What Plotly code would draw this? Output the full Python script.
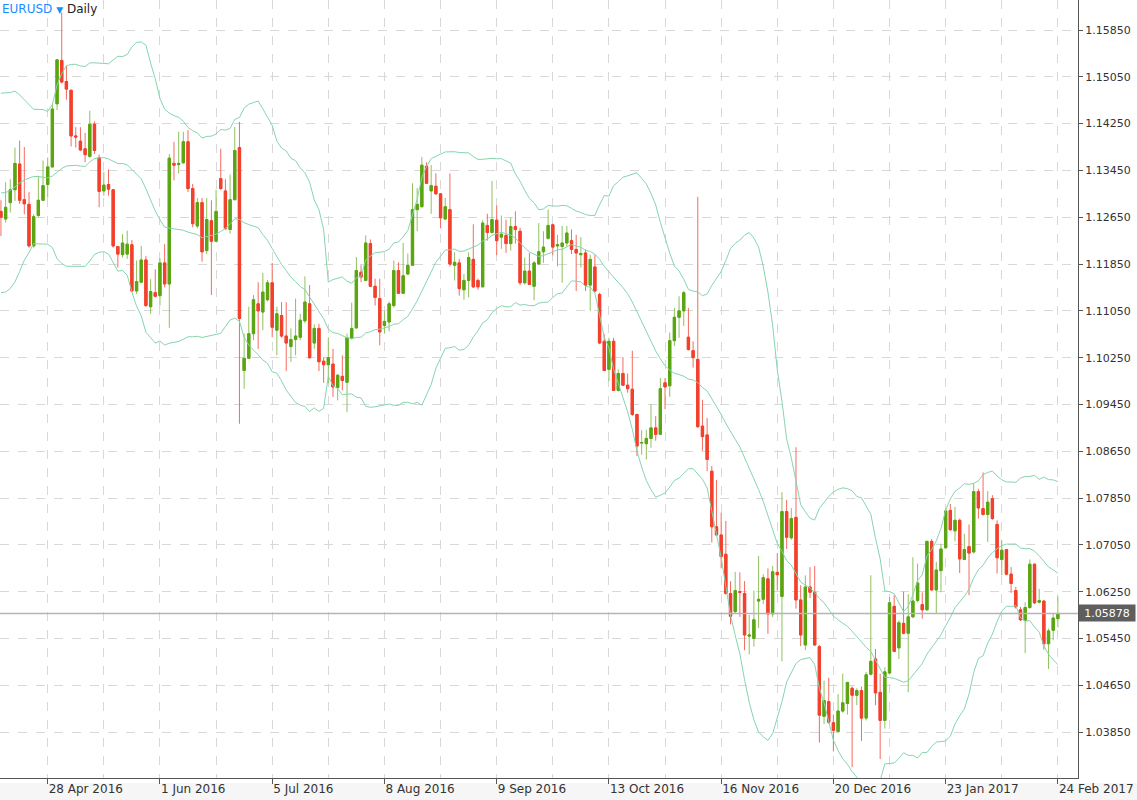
import numpy as np
import pandas as pd
import plotly.graph_objects as go

# ---------------- data ----------------
# daily EURUSD bars, 14 Apr 2016 .. 24 Feb 2017 (weekdays)
opens = [1.1275,1.1262,1.1290,1.1312,1.1356,1.1295,1.1287,1.1216,1.1268,1.1294,
1.1321,1.1351,1.1459,1.1533,1.1497,1.1482,1.1404,1.1395,1.1382,1.1369,
1.1424,1.1367,1.1310,1.1321,1.1312,1.1215,1.1201,1.1202,1.1218,1.1139,
1.1154,1.1192,1.1112,1.1136,1.1131,1.1187,1.1151,1.1357,1.1355,1.1358,
1.1394,1.1314,1.1250,1.1290,1.1208,1.1259,1.1224,1.1331,1.1310,1.1244,
1.1295,1.1384,1.1003,1.1024,1.1066,1.1117,1.1103,1.1124,1.1153,1.1072,
1.1097,1.1062,1.1044,1.1056,1.1060,1.1088,1.1117,1.1050,1.1075,1.1019,
1.1013,1.1014,1.0974,1.0993,1.0983,1.1058,1.1076,1.1171,1.1157,1.1220,
1.1147,1.1126,1.1080,1.1086,1.1114,1.1174,1.1135,1.1168,1.1183,1.1278,
1.1283,1.1352,1.1310,1.1318,1.1305,1.1262,1.1278,1.1183,1.1187,1.1141,
1.1157,1.1193,1.1157,1.1146,1.1251,1.1239,1.1260,1.1231,1.1234,1.1220,
1.1249,1.1241,1.1153,1.1173,1.1147,1.1185,1.1206,1.1229,1.1252,1.1216,
1.1215,1.1221,1.1225,1.1210,1.1201,1.1204,1.1149,1.1180,1.1133,1.1053,
1.1005,1.1053,1.0969,1.0998,1.0978,1.0971,1.0928,1.0879,1.0878,1.0887,
1.0905,1.0894,1.0982,1.0977,1.1054,1.1094,1.1105,1.1060,1.1037,1.1022,
1.0908,1.0893,1.0831,1.0736,1.0722,1.0689,1.0622,1.0591,1.0625,1.0622,
1.0549,1.0545,1.0609,1.0612,1.0647,1.0587,1.0658,1.0617,1.0762,1.0717,
1.0752,1.0611,1.0534,1.0633,1.0624,1.0531,1.0412,1.0437,1.0401,1.0386,
1.0421,1.0434,1.0460,1.0448,1.0456,1.0409,1.0484,1.0510,1.0453,1.0405,
1.0486,1.0600,1.0529,1.0571,1.0554,1.0582,1.0610,1.0603,1.0594,1.0711,
1.0628,1.0661,1.0700,1.0764,1.0729,1.0747,1.0680,1.0702,1.0693,1.0796,
1.0767,1.0757,1.0784,1.0740,1.0680,1.0697,1.0655,1.0627,1.0594,1.0576,
1.0598,1.0672,1.0607,1.0609,1.0536,1.0559,1.0579]
highs = [1.1294,1.1325,1.1330,1.1384,1.1396,1.1385,1.1308,1.1270,1.1336,1.1362,
1.1367,1.1459,1.1535,1.1615,1.1524,1.1483,1.1419,1.1419,1.1409,1.1447,
1.1429,1.1372,1.1342,1.1347,1.1312,1.1216,1.1236,1.1242,1.1226,1.1191,
1.1216,1.1199,1.1159,1.1176,1.1195,1.1219,1.1373,1.1394,1.1411,1.1411,
1.1414,1.1322,1.1298,1.1298,1.1298,1.1294,1.1312,1.1382,1.1330,1.1338,
1.1419,1.1428,1.1066,1.1112,1.1132,1.1154,1.1170,1.1158,1.1187,1.1112,
1.1120,1.1120,1.1075,1.1126,1.1100,1.1164,1.1149,1.1082,1.1083,1.1026,
1.1060,1.1040,1.0997,1.1029,1.1066,1.1119,1.1197,1.1183,1.1234,1.1227,
1.1160,1.1160,1.1105,1.1121,1.1191,1.1188,1.1221,1.1203,1.1323,1.1315,
1.1368,1.1359,1.1354,1.1340,1.1306,1.1298,1.1340,1.1205,1.1194,1.1168,
1.1205,1.1253,1.1160,1.1260,1.1271,1.1327,1.1285,1.1268,1.1261,1.1265,
1.1275,1.1247,1.1196,1.1204,1.1190,1.1255,1.1241,1.1278,1.1254,1.1235,
1.1250,1.1250,1.1244,1.1235,1.1231,1.1210,1.1201,1.1201,1.1136,1.1065,
1.1059,1.1059,1.1005,1.1026,1.0998,1.1037,1.0928,1.0901,1.0902,1.0945,
1.0925,1.0990,1.0990,1.1068,1.1110,1.1130,1.1139,1.1110,1.1053,1.1300,
1.0953,1.0922,1.0840,1.0816,1.0760,1.0746,1.0643,1.0659,1.0658,1.0643,
1.0585,1.0627,1.0686,1.0655,1.0665,1.0669,1.0691,1.0795,1.0782,1.0768,
1.0872,1.0636,1.0653,1.0667,1.0669,1.0534,1.0473,1.0478,1.0415,1.0450,
1.0485,1.0470,1.0463,1.0460,1.0463,1.0488,1.0653,1.0527,1.0485,1.0496,
1.0616,1.0619,1.0576,1.0625,1.0621,1.0684,1.0673,1.0624,1.0712,1.0715,
1.0676,1.0707,1.0767,1.0775,1.0770,1.0750,1.0724,1.0740,1.0810,1.0801,
1.0829,1.0797,1.0790,1.0747,1.0713,1.0698,1.0667,1.0633,1.0599,1.0607,
1.0680,1.0673,1.0630,1.0610,1.0562,1.0587,1.0617]
lows = [1.1233,1.1256,1.1273,1.1293,1.1288,1.1270,1.1213,1.1213,1.1265,1.1293,
1.1299,1.1350,1.1448,1.1494,1.1466,1.1386,1.1384,1.1378,1.1359,1.1367,
1.1373,1.1282,1.1302,1.1302,1.1213,1.1179,1.1196,1.1194,1.1137,1.1134,
1.1154,1.1112,1.1100,1.1128,1.1114,1.1145,1.1076,1.1328,1.1340,1.1357,
1.1308,1.1248,1.1246,1.1189,1.1202,1.1132,1.1224,1.1312,1.1243,1.1237,
1.1294,1.0912,1.0972,1.1023,1.1055,1.1040,1.1072,1.1121,1.1060,1.1029,
1.1059,1.1002,1.1018,1.1029,1.1055,1.1084,1.1023,1.1040,1.1002,1.0982,
1.0981,1.0958,1.0952,1.0969,1.0932,1.1056,1.1074,1.1154,1.1157,1.1146,
1.1114,1.1046,1.1066,1.1070,1.1111,1.1134,1.1134,1.1166,1.1183,1.1241,
1.1282,1.1322,1.1271,1.1304,1.1246,1.1261,1.1181,1.1157,1.1131,1.1124,
1.1128,1.1144,1.1141,1.1146,1.1225,1.1237,1.1200,1.1211,1.1204,1.1208,
1.1220,1.1149,1.1150,1.1150,1.1123,1.1184,1.1187,1.1227,1.1200,1.1181,
1.1153,1.1215,1.1202,1.1139,1.1179,1.1139,1.1105,1.1136,1.1048,1.1002,
1.0985,1.0968,1.0967,1.0977,1.0965,1.0925,1.0857,1.0859,1.0851,1.0871,
1.0883,1.0893,1.0937,1.0958,1.1045,1.1059,1.1079,1.1037,1.1008,1.0905,
1.0866,1.0831,1.0709,1.0720,1.0665,1.0620,1.0569,1.0588,1.0582,1.0525,
1.0518,1.0531,1.0563,1.0604,1.0553,1.0582,1.0627,1.0506,1.0698,1.0714,
1.0596,1.0532,1.0525,1.0614,1.0532,1.0367,1.0399,1.0399,1.0352,1.0383,
1.0418,1.0415,1.0325,1.0431,1.0370,1.0405,1.0482,1.0431,1.0339,1.0391,
1.0485,1.0522,1.0510,1.0552,1.0453,1.0580,1.0607,1.0579,1.0593,1.0627,
1.0588,1.0624,1.0700,1.0729,1.0711,1.0657,1.0679,1.0619,1.0690,1.0750,
1.0755,1.0710,1.0748,1.0656,1.0653,1.0653,1.0623,1.0596,1.0575,1.0520,
1.0596,1.0604,1.0605,1.0526,1.0493,1.0542,1.0564]
closes = [1.1265,1.1282,1.1312,1.1357,1.1294,1.1288,1.1216,1.1266,1.1294,1.1319,
1.1351,1.1450,1.1534,1.1496,1.1484,1.1404,1.1402,1.1380,1.1372,1.1424,
1.1379,1.1309,1.1320,1.1313,1.1216,1.1202,1.1221,1.1219,1.1139,1.1155,
1.1192,1.1114,1.1138,1.1130,1.1187,1.1151,1.1366,1.1354,1.1357,1.1394,
1.1314,1.1254,1.1290,1.1206,1.1261,1.1224,1.1275,1.1314,1.1246,1.1295,
1.1379,1.1092,1.1024,1.1066,1.1124,1.1105,1.1137,1.1153,1.1077,1.1100,
1.1062,1.1050,1.1056,1.1062,1.1089,1.1120,1.1025,1.1075,1.1018,1.1013,
1.1025,1.0975,1.0995,1.0986,1.1059,1.1075,1.1174,1.1163,1.1221,1.1147,
1.1128,1.1069,1.1087,1.1117,1.1174,1.1135,1.1165,1.1183,1.1278,1.1287,
1.1354,1.1323,1.1319,1.1305,1.1264,1.1283,1.1185,1.1188,1.1143,1.1157,
1.1196,1.1146,1.1146,1.1255,1.1239,1.1261,1.1225,1.1236,1.1220,1.1249,
1.1244,1.1153,1.1173,1.1150,1.1187,1.1206,1.1214,1.1251,1.1214,1.1218,
1.1221,1.1238,1.1210,1.1204,1.1203,1.1149,1.1193,1.1139,1.1050,1.1003,
1.1053,1.0969,1.0998,1.0978,1.0972,1.0928,1.0874,1.0880,1.0887,1.0905,
1.0894,1.0972,1.0975,1.1054,1.1094,1.1105,1.1136,1.1039,1.1025,1.0907,
1.0890,1.0851,1.0736,1.0722,1.0685,1.0622,1.0583,1.0627,1.0624,1.0551,
1.0551,1.0577,1.0612,1.0649,1.0587,1.0659,1.0654,1.0762,1.0718,1.0750,
1.0611,1.0551,1.0633,1.0624,1.0534,1.0414,1.0439,1.0402,1.0388,1.0421,
1.0435,1.0470,1.0448,1.0456,1.0409,1.0483,1.0506,1.0452,1.0405,1.0488,
1.0606,1.0523,1.0572,1.0554,1.0582,1.0609,1.0640,1.0594,1.0711,1.0628,
1.0662,1.0698,1.0763,1.0731,1.0747,1.0681,1.0697,1.0691,1.0796,1.0768,
1.0757,1.0778,1.0750,1.0683,1.0696,1.0655,1.0639,1.0599,1.0577,1.0598,
1.0672,1.0606,1.0610,1.0536,1.0558,1.0580,1.05878]
# closes of the 19 sessions before the visible window (estimated from where the bands start)
prior_closes = [1.1270,1.1241,1.1220,1.1180,1.1180,1.1165,1.1196,1.1300,1.1331,1.1380,
1.1390,1.1390,1.1381,1.1401,1.1380,1.1399,1.1410,1.1383,1.1270]

# x-axis labels: first bar is 14 Apr 2016, a label every 24 bars
tick_idx = [10, 34, 58, 82, 106, 130, 154, 178, 202, 226]
tick_labels = ["28 Apr 2016", "1 Jun 2016", "5 Jul 2016", "8 Aug 2016", "9 Sep 2016",
               "13 Oct 2016", "16 Nov 2016", "20 Dec 2016", "23 Jan 2017", "24 Feb 2017"]
minor_idx = [22, 46, 70, 94, 118, 142, 166, 190, 214]
y_ticks = [1.03850, 1.04650, 1.05450, 1.06250, 1.07050, 1.07850, 1.08650, 1.09450,
           1.10250, 1.11050, 1.11850, 1.12650, 1.13450, 1.14250, 1.15050, 1.15850]
last_price = 1.05878
bb_period = 20
bb_mult = 2

# ---------------- figure ----------------
n = len(closes)
x = list(range(n))

allc = pd.Series(prior_closes + closes)
mid = allc.rolling(bb_period).mean().iloc[-n:].to_numpy()
sd = allc.rolling(bb_period).std(ddof=0).iloc[-n:].to_numpy()
upper = mid + bb_mult * sd
lower = mid - bb_mult * sd

body_top = np.maximum(opens, closes)
body_bot = np.minimum(opens, closes)

GREEN = "#5aa511"
RED = "#f2402c"
GREEN_WICK = "#8fc15c"
RED_WICK = "#f56b5f"
BAND = "#86d5ae"
GRID = "#d8d8d8"
AXIS = "#555555"
FONT = "DejaVu Sans"

fig = go.Figure()
for band in (upper, mid, lower):
    fig.add_trace(go.Scatter(x=x, y=band, mode="lines", line=dict(color=BAND, width=1),
                             hoverinfo="skip", showlegend=False))
# full range (wicks), lighter tint
fig.add_trace(go.Candlestick(
    x=x, open=opens, high=highs, low=lows, close=closes,
    increasing=dict(line=dict(color=GREEN_WICK, width=1), fillcolor=GREEN_WICK),
    decreasing=dict(line=dict(color=RED_WICK, width=1), fillcolor=RED_WICK),
    whiskerwidth=0, showlegend=False, hoverinfo="skip"))
# bodies (open..close) in full colour
fig.add_trace(go.Candlestick(
    x=x, open=opens, high=body_top, low=body_bot, close=closes,
    increasing=dict(line=dict(color=GREEN, width=1), fillcolor=GREEN),
    decreasing=dict(line=dict(color=RED, width=1), fillcolor=RED),
    whiskerwidth=0, showlegend=False))

fig.update_layout(
    width=1137, height=800,
    margin=dict(l=0, r=59, t=0, b=22, pad=0),
    paper_bgcolor="white", plot_bgcolor="white",
    showlegend=False,
    font=dict(family=FONT, size=11, color="#333333"),
    xaxis=dict(
        range=[-0.2, 230.3], rangeslider=dict(visible=False),
        tickmode="array", tickvals=tick_idx, ticktext=tick_labels,
        ticks="outside", ticklen=5, tickcolor=AXIS, tickwidth=1,
        ticklabelposition="outside right",
        tickfont=dict(family=FONT, size=12, color="#333333"),
        showline=True, linecolor=AXIS, linewidth=1,
        showgrid=True, gridcolor=GRID, griddash="dash", gridwidth=1,
        minor=dict(tickvals=minor_idx, showgrid=True, gridcolor=GRID, griddash="dash", ticks=""),
        zeroline=False, fixedrange=True),
    yaxis=dict(
        side="right", range=[1.03066, 1.16363],
        tickmode="array", tickvals=y_ticks, ticktext=["%.5f" % v for v in y_ticks],
        ticks="outside", ticklen=4, tickcolor=AXIS,
        tickfont=dict(family=FONT, size=11, color="#333333"),
        showline=True, linecolor=AXIS, linewidth=1,
        showgrid=True, gridcolor=GRID, griddash="dash", gridwidth=1,
        zeroline=False, fixedrange=True),
)

# current price line + label
fig.add_shape(type="line", xref="paper", x0=0, x1=1, yref="y", y0=last_price, y1=last_price,
              line=dict(color="#b5b5b5", width=1.5))
fig.add_annotation(xref="paper", x=1.0, xanchor="left", yref="y", y=last_price, yanchor="middle",
                   text="%.5f" % last_price, showarrow=False, bgcolor="#5e5e5e",
                   font=dict(family=FONT, size=11, color="white"), width=54, height=14,
                   align="center", borderpad=1)
# light band under the date axis
fig.add_shape(type="rect", xref="paper", x0=0, x1=1.06, yref="paper", y0=-22 / 778, y1=-5 / 778,
              fillcolor="#f6f6f6", line=dict(width=0), layer="below")
# title
fig.add_annotation(xref="paper", x=0, xanchor="left", yref="paper", y=1.0, yanchor="top",
                   text='<span style="color:#1a8cff">EURUSD</span> '
                        '<span style="color:#1a8cff;font-size:9px">▼</span> '
                        '<span style="color:#222222">Daily</span>',
                   showarrow=False, font=dict(family=FONT, size=12), borderpad=1)

fig.write_html("out.html", config={"displayModeBar": False},
               post_script="document.body.style.margin='0';document.body.style.overflow='hidden';")
